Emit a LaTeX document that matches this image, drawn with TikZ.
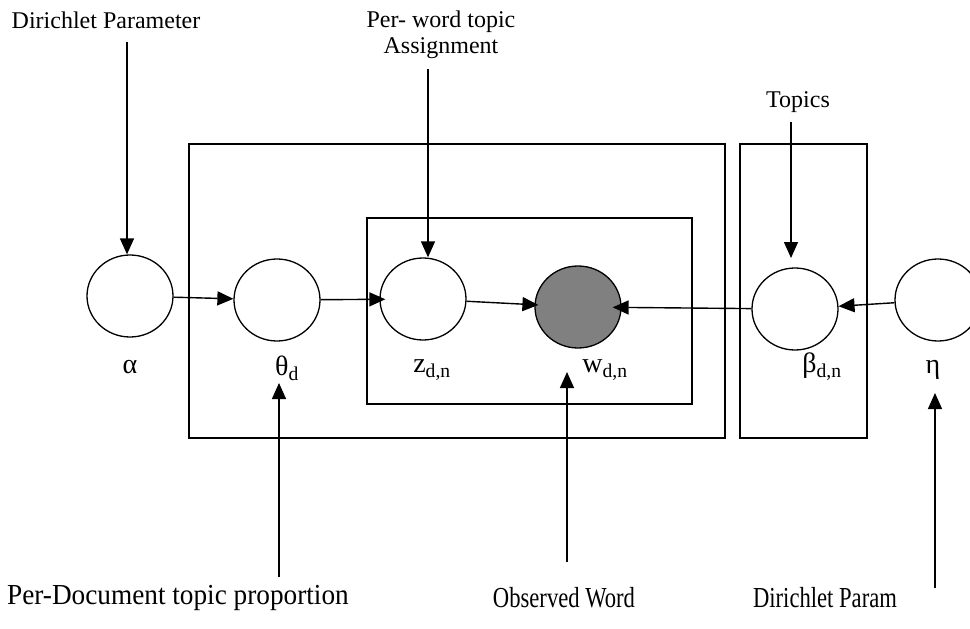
\documentclass[tikz,border=0pt]{standalone}
\usepackage{fontspec}
\setmainfont{Liberation Serif}
\usetikzlibrary{arrows.meta,shapes.geometric}
\begin{document}
\begin{tikzpicture}[x=1pt,y=-1pt,
  var/.style={ellipse,draw,line width=1.3pt,minimum width=86pt,minimum height=82pt,inner sep=0pt},
  obs/.style={var,fill=black!50},
  plate/.style={draw,line width=1.6pt},
  arr/.style={line width=1.4pt,-{Triangle[length=16pt,width=14pt]}},
  lbl/.style={font=\fontsize{24}{26}\selectfont,inner sep=0pt,align=center},
  sym/.style={font=\fontsize{28}{30}\selectfont,inner sep=0pt},
  btm/.style={font=\fontsize{29}{31}\selectfont,inner sep=0pt}]
\useasboundingbox (0,0) rectangle (970,629);
% plates
\draw[plate] (189,144) rectangle (725,438);
\draw[plate] (367,218) rectangle (692,404);
\draw[plate] (740,144) rectangle (867,438);
% variables
\node[var] (alpha) at (130,296) {};
\node[var] (theta) at (277,300) {};
\node[var] (z) at (423,299) {};
\node[obs] (w) at (578,307) {};
\node[var] (beta) at (795,309) {};
\node[var] (eta) at (938,300) {};
% symbol labels
\node[sym] (alab) at (130,367) {α};
\node[sym] (tlab) at (287,368) {θ\textsubscript{d}};
\node[sym] (zlab) at (432,370) {z\textsubscript{d,n}};
\node[sym] (wlab) at (605,370) {w\textsubscript{d,n}};
\node[sym] (blab) at (822,367) {β\textsubscript{d,n}};
\node[sym] (elab) at (933,370) {η};
% annotation labels
\node[lbl] (dp) at (106,20) {Dirichlet Parameter};
\node[lbl] (pw) at (441,35) {Per- word topic\\Assignment};
\node[lbl] (tp) at (798,102) {Topics};
\node[btm,xscale=0.94] (pd) at (178,598) {Per-Document topic proportion};
\node[btm,xscale=0.78] (ow) at (564,598) {Observed Word};
\node[btm,xscale=0.78] (dq) at (825,598) {Dirichlet Param};
% arrow anchors
\coordinate (c1) at (127,42);
\coordinate (c2) at (428,69);
\coordinate (c3) at (791,122);
\coordinate (c3e) at (791,258);
\coordinate (c4) at (279,577);
\coordinate (c4e) at (279,383);
\coordinate (c5) at (567,562);
\coordinate (c5e) at (567,372);
\coordinate (c6) at (935,588);
\coordinate (c6e) at (935,393);
% edges
\draw[arr] (alpha) -- (theta);
\draw[arr,shorten >=-6pt] (theta) -- (z);
\draw[arr,shorten >=-4pt] (z) -- (w);
\draw[arr,shorten >=-9pt] (beta) -- (w);
\draw[arr] (eta) -- (beta);
% annotation arrows
\draw[arr] (c1) -- (c1 |- alpha.north);
\draw[arr] (c2) -- (c2 |- z.north);
\draw[arr] (c3) -- (c3e);
\draw[arr] (c4) -- (c4e);
\draw[arr] (c5) -- (c5e);
\draw[arr] (c6) -- (c6e);
\end{tikzpicture}
\end{document}
